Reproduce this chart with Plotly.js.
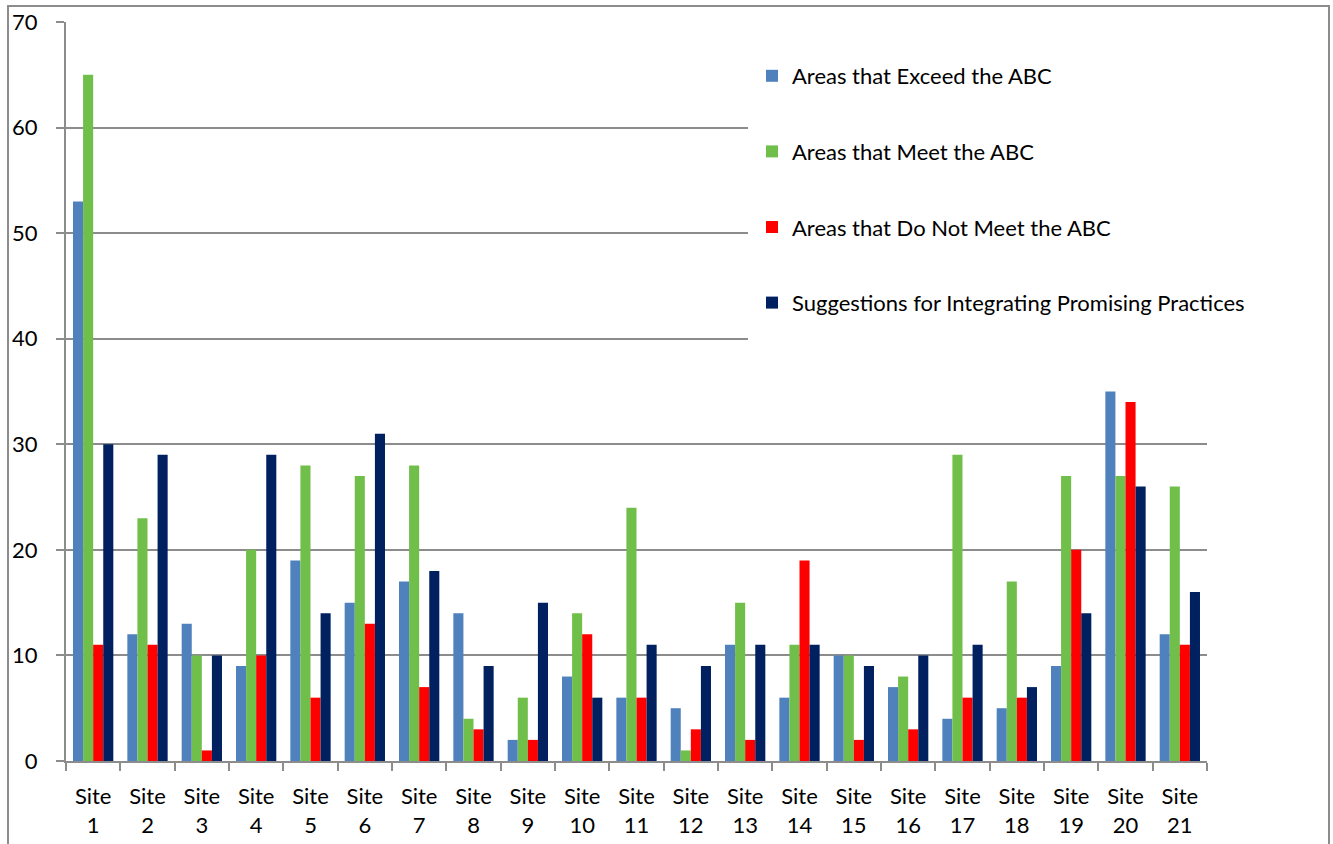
<!DOCTYPE html>
<html>
<head>
<meta charset="utf-8">
<script src="https://cdn.plot.ly/plotly-3.0.1.min.js"></script>
<style>
html,body{margin:0;padding:0;background:#fff;}
#chart{width:1333px;height:844px;}
</style>
</head>
<body>
<div id="chart"></div>
<script>
const sites = ["Site<br>1","Site<br>2","Site<br>3","Site<br>4","Site<br>5","Site<br>6","Site<br>7","Site<br>8","Site<br>9","Site<br>10","Site<br>11","Site<br>12","Site<br>13","Site<br>14","Site<br>15","Site<br>16","Site<br>17","Site<br>18","Site<br>19","Site<br>20","Site<br>21"];
const exceedABC = [53,12,13,9,19,15,17,14,2,8,6,5,11,6,10,7,4,5,9,35,12];
const meetABC = [65,23,10,20,28,27,28,4,6,14,24,1,15,11,10,8,29,17,27,27,26];
const notMeetABC = [11,11,1,10,6,13,7,3,2,12,6,3,2,19,2,3,6,6,20,34,11];
const suggestions = [30,29,10,29,14,31,18,9,15,6,11,9,11,11,9,10,11,7,14,26,16];
const seriesNames = ["Areas that Exceed the ABC","Areas that Meet the ABC","Areas that Do Not Meet the ABC","Suggestions for Integrating Promising Practices"];
const seriesColors = ["#4F81BD","#70BF4A","#FF0000","#002060"];
const seriesValues = [exceedABC, meetABC, notMeetABC, suggestions];

const FONT = "Lato, 'Noto Sans', sans-serif";

const traces = seriesValues.map((vals, i) => ({
  type: "bar",
  x: sites,
  y: vals,
  name: seriesNames[i],
  legendgroup: "g" + i,
  marker: {color: seriesColors[i], line: {width: 0}},
  hoverinfo: "y+name"
}));

const L = 66, R = 1207, T = 22, B = 761;
const pw = R - L, ph = B - T;
const px = v => (v - L) / pw;
const py = v => (B - v) / ph;

const layout = {
  width: 1333, height: 844,
  margin: {l: L, r: 1333 - R, t: T, b: 844 - B, pad: 0},
  paper_bgcolor: "#ffffff",
  plot_bgcolor: "#ffffff",
  font: {family: FONT, size: 22, color: "#000000"},
  barmode: "group",
  bargap: 0.258,
  bargroupgap: 0,
  showlegend: true,
  legend: {
    x: px(752), xanchor: "left",
    y: py(55), yanchor: "top",
    bgcolor: "rgba(255,255,255,0)",
    borderwidth: 0,
    font: {family: FONT, size: 22, color: "#000000"},
    tracegroupgap: 44,
    traceorder: "grouped",
    itemwidth: 30
  },
  xaxis: {
    type: "category",
    showgrid: false,
    showline: true,
    linecolor: "#8c8c8c",
    linewidth: 2,
    ticks: "outside",
    tickson: "boundaries",
    ticklen: 8,
    tickwidth: 2,
    tickcolor: "#8c8c8c",
    ticklabelstandoff: 15,
    tickfont: {family: FONT, size: 22, color: "#000000"},
    zeroline: false,
    fixedrange: true
  },
  yaxis: {
    range: [0, 70],
    dtick: 10,
    tick0: 0,
    showgrid: true,
    gridcolor: "#8c8c8c",
    gridwidth: 2,
    showline: true,
    linecolor: "#8c8c8c",
    linewidth: 2,
    ticks: "outside",
    ticklen: 8,
    tickwidth: 2,
    tickcolor: "#8c8c8c",
    ticklabelstandoff: 14,
    tickfont: {family: FONT, size: 22, color: "#000000"},
    zeroline: false,
    fixedrange: true
  },
  shapes: [
    {type: "rect", xref: "paper", yref: "paper",
     x0: px(748), x1: px(1215), y0: py(346), y1: py(44),
     fillcolor: "#ffffff", line: {width: 0}, layer: "above"},
    {type: "rect", xref: "paper", yref: "paper",
     x0: px(8), x1: px(1329), y0: py(900), y1: py(6),
     fillcolor: "rgba(0,0,0,0)", line: {color: "#8c8c8c", width: 2}, layer: "below"}
  ]
};

Plotly.newPlot("chart", traces, layout, {displayModeBar: false, staticPlot: true});
</script>
</body>
</html>
